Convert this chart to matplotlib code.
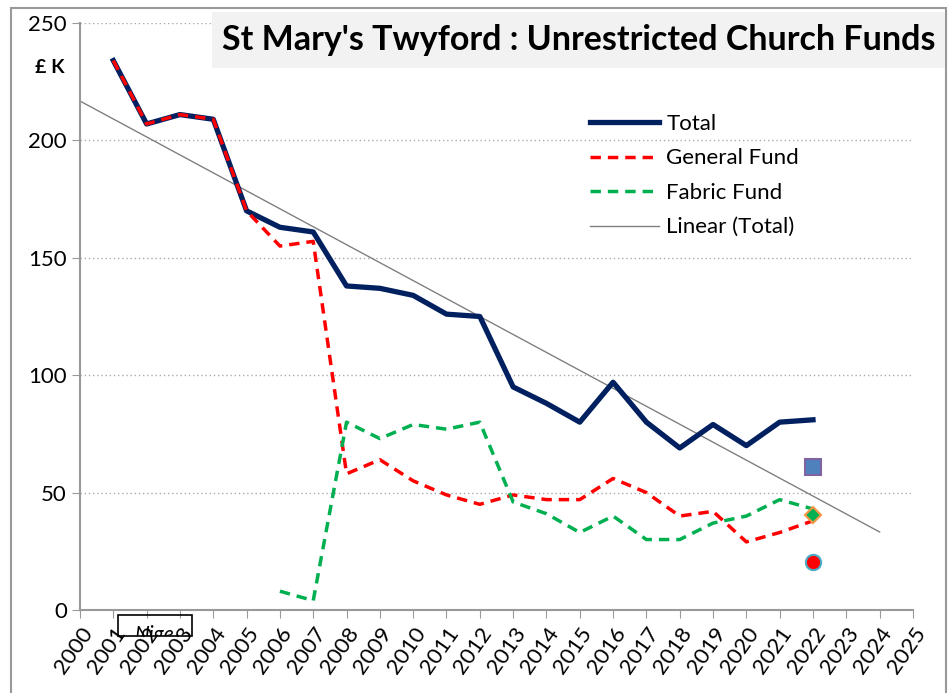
import numpy as np
import matplotlib.pyplot as plt
from matplotlib.patches import Rectangle

plt.rcParams['font.family'] = ['Lato', 'DejaVu Sans']

years = list(range(2001, 2023))
total = [234, 207, 211, 209, 170, 163, 161, 138, 137, 134, 126, 125,
         95, 88, 80, 97, 80, 69, 79, 70, 80, 81]
general = [234, 207, 211, 209, 170, 155, 157, 58, 64, 55, 49, 45,
           49, 47, 47, 56, 50, 40, 42, 29, 33, 38]
fabric_years = list(range(2006, 2023))
fabric = [8, 4, 80, 73, 79, 77, 80, 46, 41, 33, 40, 30, 30, 37, 40, 47, 43]

# 2022 single markers
extra_year = 2022
extra_square = 61
extra_diamond = 40.5
extra_circle = 20.5

fig = plt.figure(figsize=(9.49, 6.93), dpi=100)
ax = fig.add_axes([0.0843, 0.1198, 0.8777, 0.847])

# outer chart border
fig.add_artist(Rectangle((0.012, -0.05), 0.985, 1.038, transform=fig.transFigure,
                         fill=False, edgecolor='#999999', lw=1.5))

ax.grid(axis='y', color='#aaaaaa', linestyle=(0, (1, 2)), lw=1)
ax.set_axisbelow(True)

# linear trendline on total
coef = np.polyfit(years, total, 1)
tx = np.array([2000, 2024])
ax.plot(tx, np.polyval(coef, tx), color='#808080', lw=1, label='Linear (Total)', zorder=2)

ax.plot(years, total, color='#002060', lw=3.8, label='Total', zorder=3)
ax.plot(years, general, color='#ff0000', lw=2.5, dashes=(3, 2), label='General Fund', zorder=4)
ax.plot(fabric_years, fabric, color='#00b050', lw=2.5, dashes=(3, 2), label='Fabric Fund', zorder=4)

ax.plot(extra_year, extra_square, marker='s', ms=11, mfc='#4f81bd', mec='#8064a2', mew=1.5, zorder=5)
ax.plot(extra_year, extra_diamond, marker='D', ms=8, mfc='#00b050', mec='#f79646', mew=1.5, zorder=5)
ax.plot(extra_year, extra_circle, marker='o', ms=11, mfc='#ff0000', mec='#4bacc6', mew=1.5, zorder=5)

ax.set_xlim(2000, 2025)
ax.set_ylim(0, 250)
ax.set_xticks(range(2000, 2026))
ax.set_xticklabels([str(y) for y in range(2000, 2026)], rotation=55, ha='right',
                   rotation_mode='anchor', fontsize=16)
ax.set_yticks(range(0, 251, 50))
ax.tick_params(axis='y', labelsize=16, length=6, color='#999999', direction='out')
ax.tick_params(axis='x', length=6, color='#999999', direction='out', pad=4)
for s in ['top', 'right']:
    ax.spines[s].set_visible(False)
for s in ['left', 'bottom']:
    ax.spines[s].set_color('#999999')
    ax.spines[s].set_linewidth(1.5)

handles, labels = ax.get_legend_handles_labels()
order = [1, 2, 3, 0]
ax.legend([handles[i] for i in order], [labels[i] for i in order],
          loc='upper left', bbox_to_anchor=(0.612, 0.845), frameon=False,
          fontsize=16, handlelength=3.1, labelspacing=0.65, handletextpad=0.35,
          borderpad=0, borderaxespad=0)

# title with grey box
fig.add_artist(Rectangle((0.2234, 0.902), 0.772, 0.081, transform=fig.transFigure,
                         facecolor='#f2f2f2', edgecolor='none'))
fig.text(0.234, 0.942, "St Mary's Twyford : Unrestricted Church Funds",
         fontsize=24.5, fontweight='bold', va='center', ha='left')
fig.text(0.037, 0.902, '£ K', fontsize=14, fontweight='bold', va='center')

# small clipped text box
box = Rectangle((0.1243, 0.0823), 0.078, 0.0303, transform=fig.transFigure,
                fill=False, edgecolor='black', lw=1.2)
fig.add_artist(box)
t = fig.text(0.163, 0.084, 'Nige', fontsize=15, style='italic', ha='center', va='center')
t.set_clip_path(box)

fig.savefig('out.png', dpi=100)
